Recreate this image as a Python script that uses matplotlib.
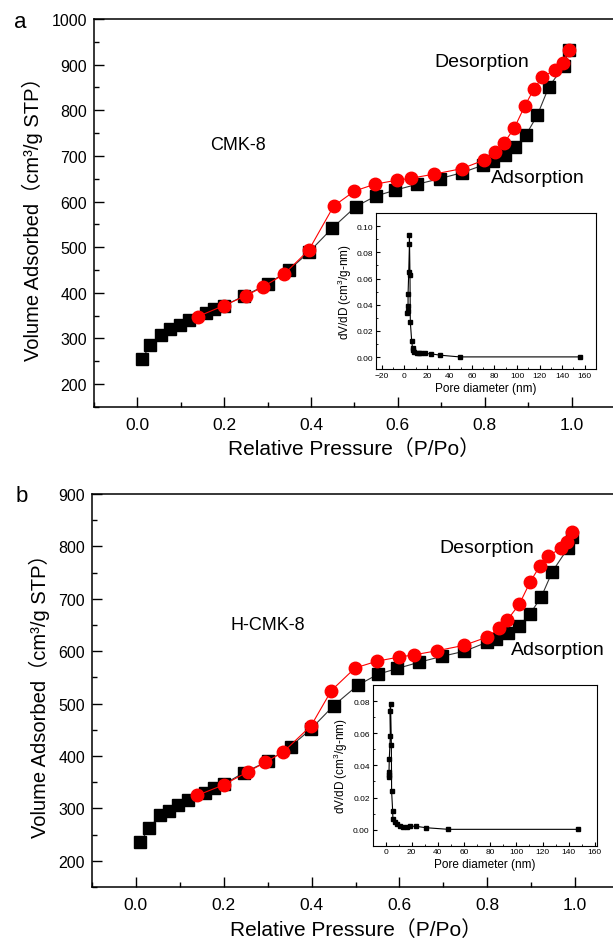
import numpy as np
import matplotlib
matplotlib.use("Agg")
import matplotlib.pyplot as plt
from matplotlib.ticker import MultipleLocator, FormatStrFormatter

plt.rcParams['font.family'] = ['Liberation Sans', 'Noto Sans CJK SC', 'DejaVu Sans']
plt.rcParams['mathtext.fontset'] = 'custom'
plt.rcParams['mathtext.rm'] = 'Liberation Sans'
plt.rcParams['mathtext.it'] = 'Liberation Sans'

# panel a : CMK-8 isotherm
a_ads_p = [0.01, 0.03, 0.055, 0.075, 0.097, 0.118, 0.158, 0.177, 0.2, 0.245, 0.3, 0.35,
           0.395, 0.449, 0.503, 0.549, 0.594, 0.645, 0.696, 0.747, 0.797, 0.818, 0.847,
           0.870, 0.895, 0.921, 0.948, 0.982, 0.993]
a_ads_v = [255, 285, 308, 320, 330, 341, 356, 365, 372, 393, 419, 451,
           489, 542, 589, 612, 625, 638, 650, 663, 680, 689, 702,
           719, 746, 789, 852, 896, 932]
a_des_p = [0.139, 0.199, 0.251, 0.289, 0.338, 0.395, 0.452, 0.500, 0.547, 0.599, 0.630,
           0.683, 0.747, 0.799, 0.823, 0.845, 0.868, 0.892, 0.913, 0.932, 0.962, 0.980, 0.993]
a_des_v = [348, 372, 394, 413, 441, 494, 590, 623, 638, 647, 651,
           660, 672, 691, 708, 729, 761, 809, 846, 872, 889, 903, 932]
a_psd_d = [2.9, 3.4, 3.4, 3.4, 4.0, 4.6, 4.6, 5.1, 5.4, 6.6, 7.4, 8.0, 9.1, 10.9, 13,
           15, 18, 24, 32, 49, 156]
a_psd_v = [0.034, 0.035, 0.039, 0.048, 0.065, 0.086, 0.093, 0.063, 0.027, 0.0125, 0.0069,
           0.0056, 0.0040, 0.0033, 0.0028, 0.0028, 0.0028, 0.0025, 0.0015, 0.0002, 0.0002]

# panel b : H-CMK-8 isotherm
b_ads_p = [0.01, 0.03, 0.055, 0.075, 0.097, 0.118, 0.158, 0.177, 0.2, 0.245, 0.300, 0.352,
           0.399, 0.450, 0.505, 0.551, 0.595, 0.645, 0.696, 0.748, 0.799, 0.820, 0.847,
           0.873, 0.897, 0.923, 0.948, 0.983, 0.993]
b_ads_v = [235, 263, 287, 296, 306, 316, 330, 338, 346, 368, 390, 418,
           452, 496, 535, 556, 567, 579, 590, 600, 617, 623, 635,
           649, 671, 704, 752, 796, 817]
b_des_p = [0.14, 0.2, 0.255, 0.295, 0.336, 0.399, 0.445, 0.499, 0.549, 0.600, 0.633,
           0.686, 0.746, 0.800, 0.826, 0.845, 0.873, 0.898, 0.920, 0.939, 0.967, 0.982, 0.993]
b_des_v = [325, 345, 370, 388, 408, 458, 525, 568, 581, 589, 593,
           601, 611, 627, 644, 659, 690, 733, 763, 782, 796, 808, 827]
b_psd_d = [2.5, 2.3, 2.6, 2.8, 3.6, 3.3, 3.8, 4.4, 4.6, 5.4, 5.6, 6.9, 8.5, 10.8, 13.3,
           16.7, 19, 23, 31, 48, 147]
b_psd_v = [0.0327, 0.034, 0.036, 0.0437, 0.0584, 0.0738, 0.0785, 0.053, 0.0238, 0.0116,
           0.0064, 0.0048, 0.0033, 0.0025, 0.0019, 0.0019, 0.0021, 0.0021, 0.0012, 0.0002, 0.0002]


def draw_isotherm(ax, ads_p, ads_v, des_p, des_v, ylim, sample, sample_xy, des_xy, ads_xy):
    ax.plot(ads_p, ads_v, color='#333333', lw=0.8, marker='s', ms=8.2,
            mfc='black', mec='black')
    ax.plot(des_p, des_v, color='red', lw=0.8, marker='o', ms=9,
            mfc='red', mec='red')
    ax.set_xlim(-0.1, 1.1)
    ax.set_ylim(*ylim)
    ax.xaxis.set_major_locator(MultipleLocator(0.2))
    ax.xaxis.set_minor_locator(MultipleLocator(0.1))
    ax.yaxis.set_major_locator(MultipleLocator(100))
    ax.yaxis.set_minor_locator(MultipleLocator(50))
    ax.xaxis.set_major_formatter(FormatStrFormatter('%.1f'))
    ax.tick_params(which='both', direction='in', top=False, right=False)
    ax.tick_params(which='major', length=7, width=1)
    ax.tick_params(which='minor', length=3.5, width=1)
    ax.tick_params(axis='x', labelsize=12.5, pad=7)
    ax.tick_params(axis='y', labelsize=11.5, pad=5)
    ax.set_xlabel('Relative Pressure（P/Po）', fontsize=15, labelpad=5)
    ax.set_ylabel('Volume Adsorbed（cm³/g STP）', fontsize=14.5, labelpad=6)
    ax.text(sample_xy[0], sample_xy[1], sample, fontsize=13, va='center')
    ax.text(des_xy[0], des_xy[1], 'Desorption', fontsize=14, va='center')
    ax.text(ads_xy[0], ads_xy[1], 'Adsorption', fontsize=14, va='center')
    for s in ax.spines.values():
        s.set_linewidth(1.1)


def draw_inset(ax, d, v, xlim, ylim):
    ax.plot(d, v, color='black', lw=0.8, marker='s', ms=3.2)
    ax.set_xlim(*xlim)
    ax.set_ylim(*ylim)
    ax.xaxis.set_major_locator(MultipleLocator(20))
    ax.xaxis.set_minor_locator(MultipleLocator(10))
    ax.yaxis.set_major_locator(MultipleLocator(0.02))
    ax.yaxis.set_minor_locator(MultipleLocator(0.01))
    ax.yaxis.set_major_formatter(FormatStrFormatter('%.2f'))
    ax.tick_params(which='both', direction='in', labelsize=6, pad=2)
    ax.tick_params(which='major', length=3)
    ax.tick_params(which='minor', length=1.5)
    ax.set_xlabel('Pore diameter (nm)', fontsize=8.5, labelpad=2)
    ax.set_ylabel('dV/dD (cm$^3$/g-nm)', fontsize=8.5, labelpad=2)


fig = plt.figure(figsize=(6.13, 9.45), dpi=100)

ax_a = fig.add_axes([0.1533, 0.5683, 0.850, 0.4106])
draw_isotherm(ax_a, a_ads_p, a_ads_v, a_des_p, a_des_v, (150, 1000), 'CMK-8',
              (0.168, 726), (0.684, 907), (0.815, 653))
ins_a = fig.add_axes([0.6134, 0.6085, 0.3589, 0.1651])
draw_inset(ins_a, a_psd_d, a_psd_v, (-25, 170), (-0.009, 0.11))

ax_b = fig.add_axes([0.150, 0.0603, 0.860, 0.4159])
draw_isotherm(ax_b, b_ads_p, b_ads_v, b_des_p, b_des_v, (150, 900), 'H-CMK-8',
              (0.215, 651), (0.691, 798), (0.853, 604))
ins_b = fig.add_axes([0.6077, 0.104, 0.367, 0.170])
draw_inset(ins_b, b_psd_d, b_psd_v, (-10, 162), (-0.01, 0.09))

fig.text(20 / 613, 1 - 22 / 945, 'a', fontsize=16, ha='center', va='center')
fig.text(22 / 613, 1 - 497 / 945, 'b', fontsize=16, ha='center', va='center')

fig.savefig('out.png', dpi=100)
